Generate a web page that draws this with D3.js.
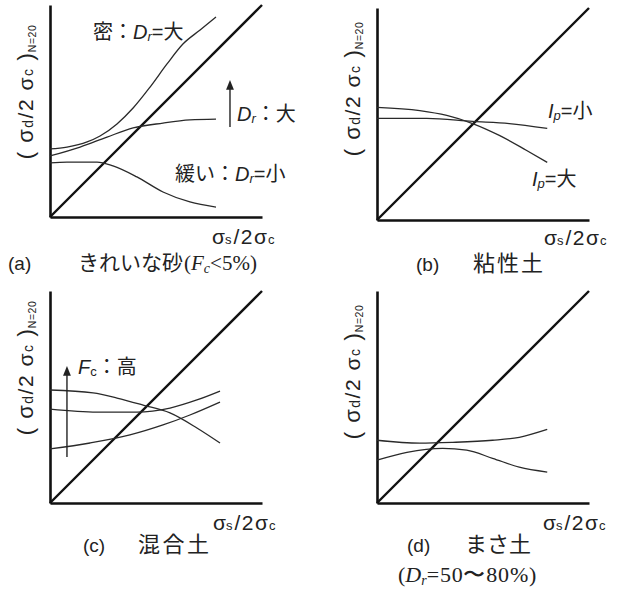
<!DOCTYPE html>
<html>
<head>
<meta charset="utf-8">
<script src="https://cdn.jsdelivr.net/npm/d3@7"></script>
<style>
body { margin:0; background:#fff; }
svg text { fill:#222; }
</style>
</head>
<body>
<script>
// curves for each panel, x = sigma_s/2sigma_c, y = sigma_d/2sigma_c (0..1, diagonal is y=x)
var aDense = [[0,.321],[.08,.33],[.175,.354],[.236,.382],[.316,.439],[.392,.514],[.472,.613],[.552,.722],[.627,.816],[.708,.882],[.783,.943]]
var aMid   = [[0,.288],[.142,.33],[.269,.377],[.392,.42],[.533,.443],[.66,.458],[.783,.462]]
var aLoose = [[0,.255],[.08,.259],[.222,.259],[.297,.241],[.41,.189],[.533,.118],[.66,.071],[.783,.047]]

var bIpLarge = [[0,.531],[.202,.516],[.329,.493],[.451,.455],[.577,.399],[.704,.329],[.803,.272]]
var bIpSmall = [[0,.479],[.235,.479],[.451,.465],[.624,.455],[.803,.432]]

var cTop = [[0,.533],[.203,.519],[.316,.495],[.439,.462],[.566,.425],[.693,.354],[.802,.283]]
var cMid = [[0,.443],[.222,.429],[.41,.429],[.566,.448],[.693,.486],[.802,.528]]
var cLow = [[0,.255],[.189,.283],[.377,.321],[.533,.368],[.66,.415],[.802,.476]]

var dUp   = [[0,.296],[.202,.282],[.357,.286],[.545,.296],[.671,.31],[.803,.347]]
var dDown = [[0,.202],[.141,.239],[.31,.258],[.423,.249],[.545,.211],[.671,.169],[.803,.146]]

// arrows: [x, yFrom, yTo]
var aArrow = [.849, .425, .623]
var cArrow = [.08, .217, .623]

var captionTags = ["(a)", "(b)", "(c)", "(d)"]
var captionNames = ["きれいな砂", "粘性土", "混合土", "まさ土"]

var W = 619, H = 594
var size = 212

var svg = d3.select("body").append("svg")
  .attr("width", W)
  .attr("height", H)

var sans = "'Liberation Sans', Arial, 'Noto Sans CJK JP', sans-serif"
var cjk = "'Noto Sans CJK JP', sans-serif"
var serif = "'Liberation Serif', 'Times New Roman', serif"

// writes text made of pieces {t, it, fs, ff, dy, ls}
function rich(g, x, y, parts, baseSize, baseFont){
  var t = g.append("text").attr("x", x).attr("y", y)
    .style("font-size", baseSize + "px").style("font-family", baseFont)
  parts.forEach(function(p){
    var s = t.append("tspan").text(p.t)
    if(p.it) s.style("font-style", "italic")
    if(p.fs) s.style("font-size", p.fs + "px")
    if(p.ff) s.style("font-family", p.ff)
    if(p.dy) s.attr("dy", p.dy)
    if(p.ls != null) s.style("letter-spacing", p.ls + "px")
  })
  return t
}

var panels = [
  {ox:50,  oy:217, curves:[aDense, aMid, aLoose], arrow:aArrow, cap:0, capX:-42, nameX:28, capY:53, nameSize:21, nameLs:0, yMid:-125, xlX:162, xlY:27},
  {ox:377, oy:220, curves:[bIpLarge, bIpSmall], cap:1, capX:39, nameX:96, capY:51, nameSize:22, nameLs:2, yMid:-131, xlX:167, xlY:25},
  {ox:50,  oy:503, curves:[cTop, cMid, cLow], arrow:cArrow, cap:2, capX:33, nameX:88, capY:49, nameSize:22, nameLs:2.5, yMid:-135, xlX:163, xlY:27},
  {ox:377, oy:503, curves:[dUp, dDown], cap:3, capX:30, nameX:88, capY:49, nameSize:22, nameLs:0, yMid:-131, xlX:166, xlY:27}
]

svg.append("defs").append("marker")
  .attr("id", "head")
  .attr("viewBox", "0 0 10 10")
  .attr("refX", 5).attr("refY", 5)
  .attr("markerWidth", 7).attr("markerHeight", 9)
  .attr("orient", "auto")
  .append("path").attr("d", "M0,1 L10,5 L0,9 Z").attr("fill", "#222")

panels.forEach(function(p, i){
  var g = svg.append("g").attr("transform", "translate(" + p.ox + "," + p.oy + ")")
  var x = d3.scaleLinear().domain([0, 1]).range([0, size])
  var y = d3.scaleLinear().domain([0, 1]).range([0, -size])

  var line = d3.line()
    .x(function(d){ return x(d[0]) })
    .y(function(d){ return y(d[1]) })
    .curve(d3.curveMonotoneX)

  // axes, no ticks
  g.append("g").call(d3.axisBottom(x).tickValues([]).tickSizeOuter(0))
    .select(".domain").attr("stroke", "#111").attr("stroke-width", 2.6)
  g.append("g").call(d3.axisLeft(y).tickValues([]).tickSizeOuter(0))
    .select(".domain").attr("stroke", "#111").attr("stroke-width", 2.6)

  // 1:1 line
  g.append("path").attr("d", line([[0,0],[1,1]]))
    .attr("fill", "none").attr("stroke", "#111").attr("stroke-width", 2.4)

  g.selectAll(".curve").data(p.curves).enter().append("path")
    .attr("class", "curve")
    .attr("d", line)
    .attr("fill", "none").attr("stroke", "#2a2a2a").attr("stroke-width", 1.3)

  if(p.arrow){
    g.append("line")
      .attr("x1", x(p.arrow[0])).attr("x2", x(p.arrow[0]))
      .attr("y1", y(p.arrow[1])).attr("y2", y(p.arrow[2]))
      .attr("stroke", "#222").attr("stroke-width", 1.4)
      .attr("marker-end", "url(#head)")
  }

  // y label
  var yl = g.append("g").attr("transform", "translate(-17," + p.yMid + ") rotate(-90)")
  rich(yl, 0, 0, [
    {t:"( σ", fs:22, ls:1.5}, {t:"d", fs:14, ls:1.5}, {t:"/2 σ", ls:1.5}, {t:"c", fs:14, ls:1.5}, {t:" )", fs:22, ls:1},
    {t:"N=20", fs:10.5, dy:3, ls:0.5}
  ], 21, sans).attr("text-anchor", "middle")

  // x label
  rich(g, p.xlX, p.xlY, [
    {t:"σ"}, {t:"s", fs:13, ls:2}, {t:"/2", ls:1.5}, {t:"σ", ls:1}, {t:"c", fs:13}
  ], 21, sans)

  // caption
  rich(g, p.capX, p.capY, [{t:captionTags[p.cap]}], 19, sans)
  rich(g, p.nameX, p.capY, [{t:captionNames[p.cap], ls:p.nameLs}], p.nameSize, cjk)

  if(i == 0){
    rich(g, 134, p.capY, [{t:"("}, {t:"F", it:true}, {t:"c", it:true, fs:14, dy:3}, {t:"<5%)", dy:-3}], 21, serif)
    rich(g, 43, -178, [{t:"密：", ff:cjk}, {t:"D", it:true}, {t:"r", it:true, fs:13, dy:2}, {t:"=", dy:-2}, {t:"大", ff:cjk}], 20, sans)
    rich(g, 187, -96, [{t:"D", it:true}, {t:"r", it:true, fs:13, dy:2}, {t:"：大", ff:cjk, dy:-2}], 20, sans)
    rich(g, 125, -36, [{t:"緩い：", ff:cjk}, {t:"D", it:true}, {t:"r", it:true, fs:13, dy:2}, {t:"=", dy:-2}, {t:"小", ff:cjk}], 20, sans)
  }
  if(i == 1){
    rich(g, 171, -102, [{t:"I", it:true}, {t:"p", it:true, fs:13, dy:2}, {t:"=", dy:-2}, {t:"小", ff:cjk}], 20, sans)
    rich(g, 155, -34, [{t:"I", it:true}, {t:"p", it:true, fs:13, dy:2}, {t:"=", dy:-2}, {t:"大", ff:cjk}], 20, sans)
  }
  if(i == 2){
    rich(g, 28, -129, [{t:"F", it:true}, {t:"c", fs:13, dy:2}, {t:"：高", ff:cjk, dy:-2}], 20, sans)
  }
  if(i == 3){
    rich(g, 21, 79, [{t:"("}, {t:"D", it:true}, {t:"r", it:true, fs:14, dy:3}, {t:"=50〜80%)", dy:-3, ls:0.8}], 22, serif)
  }
})
</script>
</body>
</html>
